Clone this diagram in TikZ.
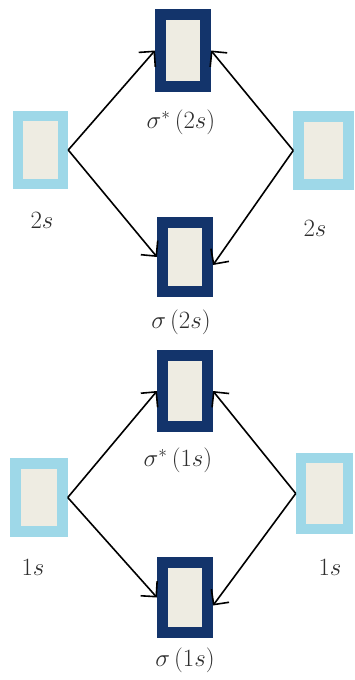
\documentclass[tikz,border=0pt]{standalone}
\usetikzlibrary{arrows.meta}
\definecolor{navy}{HTML}{13346B}
\definecolor{sky}{HTML}{9ED8E8}
\definecolor{paper}{HTML}{EEECE2}
\definecolor{ink}{HTML}{2E2E2E}
\tikzset{
  x=1pt, y=-1pt,
  orb/.style={draw, fill=paper, rectangle, inner sep=0pt},
  atomic/.style={orb, draw=sky, line width=10.5pt},
  molec/.style={orb, draw=navy, line width=11pt, minimum width=45pt},
  lbl/.style={text=ink, inner sep=0pt, font=\fontsize{26}{29}\selectfont},
  link/.style={draw=black, line width=1.6pt, -{Straight Barb[length=11pt,width=22pt,line width=1.6pt]}}
}
\begin{document}
\begin{tikzpicture}
\useasboundingbox (0,0) rectangle (354,680);
% 2s level
\node[atomic, minimum width=45pt, minimum height=68pt] (l2) at (40.5,150) {};
\node[atomic, minimum width=50pt, minimum height=68pt] (r2) at (323.5,150.5) {};
\node[molec, minimum height=72pt] (a2) at (183,50.5) {};
\node[molec, minimum height=69pt] (b2) at (185,257) {};
\node[lbl] (ta2) at (181,122) {$\sigma^{*}\,(2s)$};
\node[lbl] (tl2) at (42,220) {$2s$};
\node[lbl] (tr2) at (315,228) {$2s$};
\node[lbl] (tb2) at (181,322) {$\sigma\,(2s)$};
\draw[link] (l2.east) -- (a2.west);
\draw[link] (r2.west) -- (a2.east);
\draw[link] (l2.east) -- (b2.west);
\draw[link] (r2.west) -- ([yshift=-8pt]b2.east);
% 1s level
\node[atomic, minimum width=47pt, minimum height=68pt] (l1) at (39,497.5) {};
\node[atomic, minimum width=47pt, minimum height=71pt] (r1) at (324.5,493.5) {};
\node[molec, minimum height=71pt] (a1) at (185,391) {};
\node[molec, minimum height=70pt] (b1) at (185,597.5) {};
\node[lbl] (ta1) at (178,460) {$\sigma^{*}\,(1s)$};
\node[lbl] (tl1) at (33,567) {$1s$};
\node[lbl] (tr1) at (330,567) {$1s$};
\node[lbl] (tb1) at (185,660) {$\sigma\,(1s)$};
\draw[link] (l1.east) -- (a1.west);
\draw[link] (r1.west) -- (a1.east);
\draw[link] (l1.east) -- (b1.west);
\draw[link] (r1.west) -- ([yshift=-8pt]b1.east);
\end{tikzpicture}
\end{document}
